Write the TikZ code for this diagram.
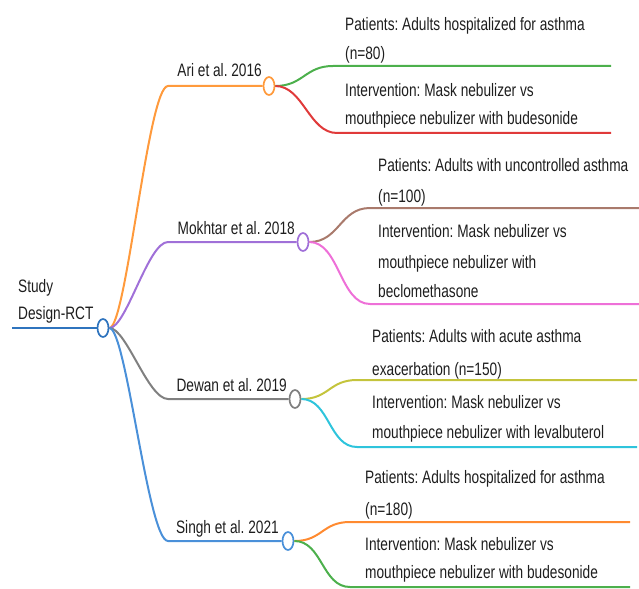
\documentclass[tikz,border=0pt]{standalone}
\usepackage{fontspec}
\usepackage{graphicx}
\setmainfont{Liberation Sans}
\usetikzlibrary{shapes.geometric}
\definecolor{cRoot}{HTML}{2F74BE}
\definecolor{cOrange}{HTML}{FF9A3C}
\definecolor{cPurple}{HTML}{A070D8}
\definecolor{cGray}{HTML}{808080}
\definecolor{cBlue}{HTML}{4A90D9}
\definecolor{cGreen}{HTML}{4CB04C}
\definecolor{cRed}{HTML}{E03A3A}
\definecolor{cBrown}{HTML}{A97A6C}
\definecolor{cPink}{HTML}{EE70D8}
\definecolor{cYel}{HTML}{C4C43C}
\definecolor{cCyan}{HTML}{2EC4DC}
\definecolor{cOrange2}{HTML}{FF8A30}
\definecolor{cText}{HTML}{1E1E1E}
\newcommand{\nt}[1]{\scalebox{0.76}[1]{#1}}
\tikzset{
  hub/.style={ellipse, draw=#1, fill=white, line width=1.7bp, minimum width=11bp, minimum height=18bp, inner sep=0pt},
  br/.style={draw=#1, line width=2bp},
  txt/.style={anchor=base west, inner sep=0pt, text=cText, font=\fontsize{18bp}{21bp}\selectfont\frenchspacing},
  lbl/.style={anchor=base east, inner sep=0pt, text=cText, font=\fontsize{18bp}{21bp}\selectfont\frenchspacing},
}
\begin{document}
\begin{tikzpicture}[x=1bp,y=-1bp]
\useasboundingbox (0,0) rectangle (639,589);
% hubs
\node[hub=cRoot] (root) at (103,328) {};
\node[hub=cOrange] (ari) at (269,86) {};
\node[hub=cPurple] (mok) at (303,242) {};
\node[hub=cGray] (dew) at (295,399) {};
\node[hub=cBlue] (sin) at (288,541) {};
% root
\coordinate (rs) at (12,328);
\draw[br=cRoot] (rs) -- (root.west);
\node[txt] (rt1) at (18,292) {\nt{Study}};
\node[txt] (rt2) at (18,319) {\nt{Design-RCT}};
% main branches
\coordinate (ka) at (168,86);
\coordinate (km) at (168,242);
\coordinate (kd) at (168,399);
\coordinate (ks) at (168,541);
\draw[br=cOrange] (root.east) .. controls +(17,0) and +(-20,0) .. (ka) -- (ari.west);
\draw[br=cPurple] (root.east) .. controls +(17,0) and +(-20,0) .. (km) -- (mok.west);
\draw[br=cGray] (root.east) .. controls +(17,0) and +(-20,0) .. (kd) -- (dew.west);
\draw[br=cBlue] (root.east) .. controls +(17,0) and +(-20,0) .. (ks) -- (sin.west);
% labels
\node[lbl] (la) at (262,77) {\nt{Ari et al. 2016}};
\node[lbl] (lm) at (295,234) {\nt{Mokhtar et al. 2018}};
\node[lbl] (ld) at (287,391) {\nt{Dewan et al. 2019}};
\node[lbl] (ls) at (279,533) {\nt{Singh et al. 2021}};
% Ari sub-branches
\coordinate (a1) at (333,66); \coordinate (a1e) at (611,66);
\coordinate (a2) at (337,133); \coordinate (a2e) at (611,133);
\draw[br=cGreen] (ari.east) .. controls +(28,0) and +(-28,0) .. (a1) -- (a1e);
\draw[br=cRed] (ari.east) .. controls +(28,0) and +(-28,0) .. (a2) -- (a2e);
\node[txt] (ap1) at (345,31) {\nt{Patients: Adults hospitalized for asthma}};
\node[txt] (ap2) at (345,60) {\nt{(n=80)}};
\node[txt] (ai1) at (345,97) {\nt{Intervention: Mask nebulizer vs}};
\node[txt] (ai2) at (345,125) {\nt{mouthpiece nebulizer with budesonide}};
% Mokhtar sub-branches
\coordinate (m1) at (370,208); \coordinate (m1e) at (639,208);
\coordinate (m2) at (370,304); \coordinate (m2e) at (639,304);
\draw[br=cBrown] (mok.east) .. controls +(30,0) and +(-30,0) .. (m1) -- (m1e);
\draw[br=cPink] (mok.east) .. controls +(30,0) and +(-30,0) .. (m2) -- (m2e);
\node[txt] (mp1) at (378,172) {\nt{Patients: Adults with uncontrolled asthma}};
\node[txt] (mp2) at (378,202) {\nt{(n=100)}};
\node[txt] (mi1) at (378,237) {\nt{Intervention: Mask nebulizer vs}};
\node[txt] (mi2) at (378,268) {\nt{mouthpiece nebulizer with}};
\node[txt] (mi3) at (378,297) {\nt{beclomethasone}};
% Dewan sub-branches
\coordinate (d1) at (357,380); \coordinate (d1e) at (637,380);
\coordinate (d2) at (357,447); \coordinate (d2e) at (637,447);
\draw[br=cYel] (dew.east) .. controls +(28,0) and +(-28,0) .. (d1) -- (d1e);
\draw[br=cCyan] (dew.east) .. controls +(28,0) and +(-28,0) .. (d2) -- (d2e);
\node[txt] (dp1) at (372,342) {\nt{Patients: Adults with acute asthma}};
\node[txt] (dp2) at (372,375) {\nt{exacerbation (n=150)}};
\node[txt] (di1) at (372,408) {\nt{Intervention: Mask nebulizer vs}};
\node[txt] (di2) at (372,438) {\nt{mouthpiece nebulizer with levalbuterol}};
% Singh sub-branches
\coordinate (s1) at (350,522); \coordinate (s1e) at (630,522);
\coordinate (s2) at (350,587); \coordinate (s2e) at (630,587);
\draw[br=cOrange2] (sin.east) .. controls +(28,0) and +(-28,0) .. (s1) -- (s1e);
\draw[br=cGreen] (sin.east) .. controls +(28,0) and +(-28,0) .. (s2) -- (s2e);
\node[txt] (sp1) at (365,483) {\nt{Patients: Adults hospitalized for asthma}};
\node[txt] (sp2) at (365,515) {\nt{(n=180)}};
\node[txt] (si1) at (365,550) {\nt{Intervention: Mask nebulizer vs}};
\node[txt] (si2) at (365,578) {\nt{mouthpiece nebulizer with budesonide}};
\end{tikzpicture}
\end{document}
